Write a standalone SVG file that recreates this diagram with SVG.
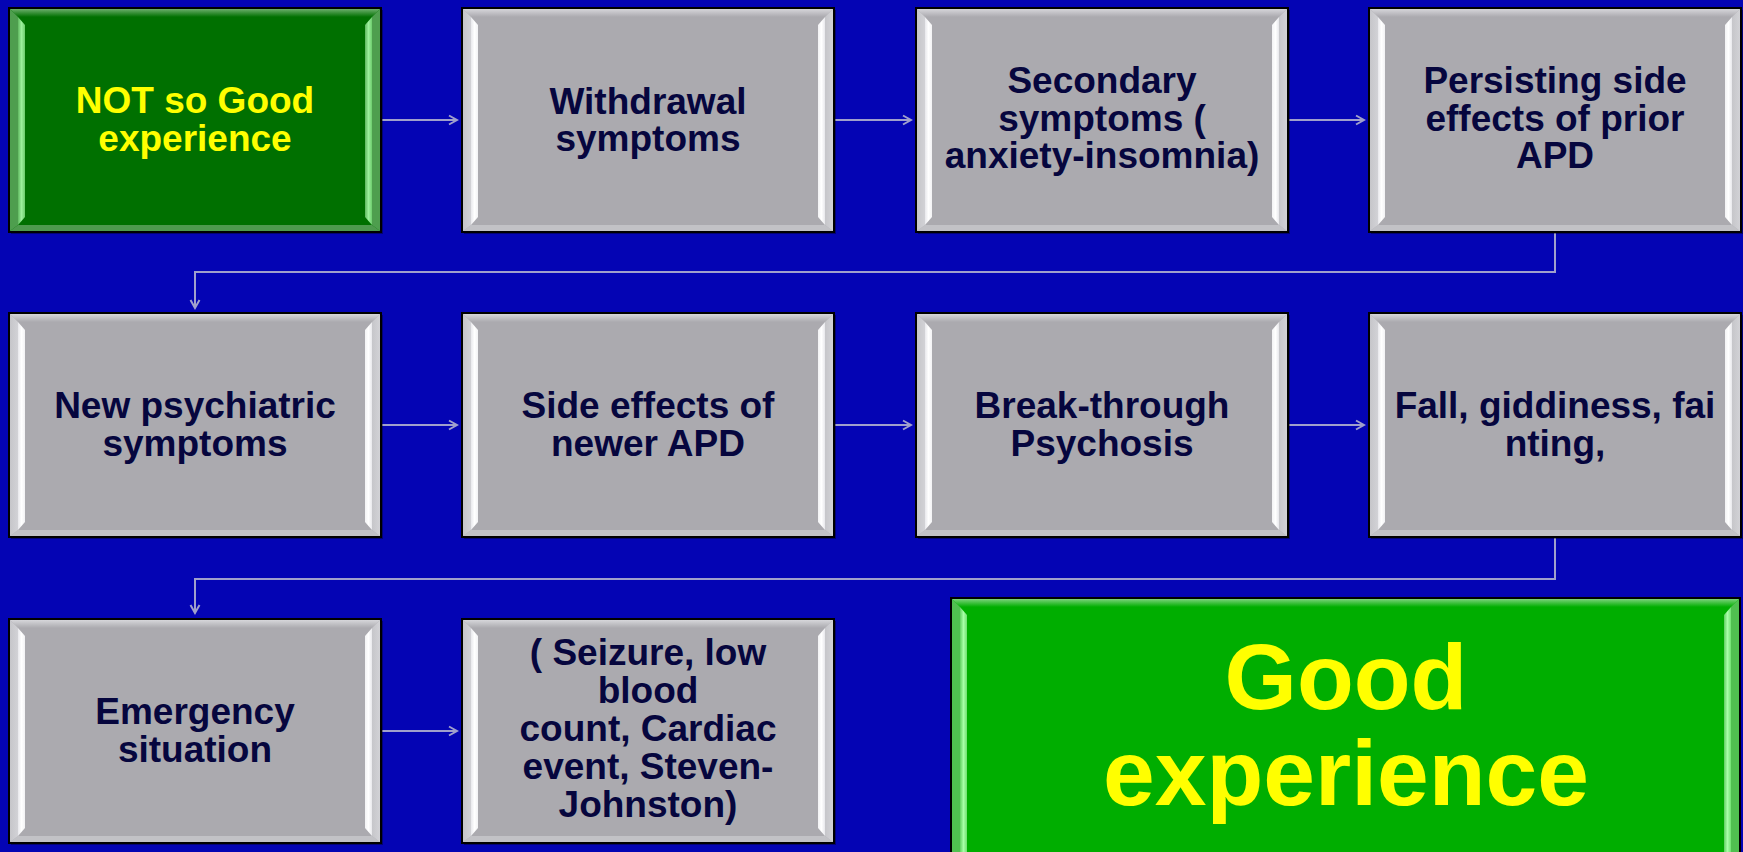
<svg xmlns="http://www.w3.org/2000/svg" xmlns:xlink="http://www.w3.org/1999/xlink" width="1743" height="852" viewBox="0 0 1743 852">
  <style>
    .lbl { font-family: "Liberation Sans", Arial, sans-serif; font-weight: bold; font-size: 37px; text-anchor: middle; fill: #06063E; }
    .yel { fill: #FFFF00; }
    .big { font-size: 93px; }
    .conn { fill: none; stroke: #A0A0CC; stroke-width: 2; }
    .edge { stroke: #000; stroke-width: 2; }
  </style>
  <defs>
    <marker id="arrow" markerUnits="userSpaceOnUse" markerWidth="12" markerHeight="12" refX="10" refY="6" orient="auto">
      <path d="M2,1.5 L10,6 L2,10.5" fill="none" stroke="#A0A0CC" stroke-width="2"/>
    </marker>
    <!-- bevel shading -->
    <linearGradient id="gTopGray" x1="0" y1="0" x2="0" y2="1">
      <stop offset="0" stop-color="#D6D6DA"/><stop offset="1" stop-color="#ABAAAF"/>
    </linearGradient>
    <linearGradient id="gLeftGray" x1="0" y1="0" x2="1" y2="0">
      <stop offset="0" stop-color="#C6C6CA"/><stop offset="1" stop-color="#D2D2D6"/>
    </linearGradient>
    <linearGradient id="gStripL" x1="0" y1="0" x2="1" y2="0">
      <stop offset="0" stop-color="#E8E8EC"/><stop offset="0.5" stop-color="#FFFFFF"/><stop offset="1" stop-color="#F2F2F4"/>
    </linearGradient>
    <linearGradient id="gStripR" x1="1" y1="0" x2="0" y2="0">
      <stop offset="0" stop-color="#E8E8EC"/><stop offset="0.5" stop-color="#FFFFFF"/><stop offset="1" stop-color="#F2F2F4"/>
    </linearGradient>
    <linearGradient id="gTopDk" x1="0" y1="0" x2="0" y2="1">
      <stop offset="0" stop-color="#6CAE6C"/><stop offset="1" stop-color="#007000"/>
    </linearGradient>
    <linearGradient id="gStripDk" x1="0" y1="0" x2="1" y2="0">
      <stop offset="0" stop-color="#5FB85F"/><stop offset="0.5" stop-color="#9CF09C"/><stop offset="1" stop-color="#6CCC6C"/>
    </linearGradient>
    <linearGradient id="gTopLt" x1="0" y1="0" x2="0" y2="1">
      <stop offset="0" stop-color="#7CD27C"/><stop offset="1" stop-color="#00AE00"/>
    </linearGradient>
    <linearGradient id="gStripLt" x1="0" y1="0" x2="1" y2="0">
      <stop offset="0" stop-color="#60D060"/><stop offset="0.5" stop-color="#A8FFA8"/><stop offset="1" stop-color="#70E070"/>
    </linearGradient>

    <!-- standard 372x224 bevelled grey card -->
    <g id="grayCard">
      <rect x="2" y="2" width="372" height="224" fill="#000" opacity="0.35"/>
      <rect x="0" y="0" width="372" height="224" fill="#ABAAAF" class="edge"/>
      <polygon points="1,1 371,1 363,9 9,9" fill="url(#gTopGray)"/>
      <polygon points="1,223 371,223 363,217 9,217" fill="#C2C2C6"/>
      <polygon points="1,1 9,9 9,217 1,223" fill="url(#gLeftGray)"/>
      <polygon points="371,1 363,9 363,217 371,223" fill="url(#gLeftGray)"/>
      <polygon points="9,9 16,17 16,209 9,217" fill="url(#gStripL)"/>
      <polygon points="363,9 356,17 356,209 363,217" fill="url(#gStripR)"/>
    </g>
  </defs>

  <rect width="1743" height="852" fill="#0404B4"/>

  <!-- connectors -->
  <g id="connectors">
    <path class="conn" d="M382,120 H457" marker-end="url(#arrow)"/>
    <path class="conn" d="M835,120 H911" marker-end="url(#arrow)"/>
    <path class="conn" d="M1289,120 H1364" marker-end="url(#arrow)"/>
    <path class="conn" d="M1555,233 V272 H195 V308" marker-end="url(#arrow)"/>
    <path class="conn" d="M382,425 H457" marker-end="url(#arrow)"/>
    <path class="conn" d="M835,425 H911" marker-end="url(#arrow)"/>
    <path class="conn" d="M1289,425 H1364" marker-end="url(#arrow)"/>
    <path class="conn" d="M1555,538 V579 H195 V613" marker-end="url(#arrow)"/>
    <path class="conn" d="M382,731 H457" marker-end="url(#arrow)"/>
  </g>

  <!-- row 1 -->
  <g id="node-not-so-good" transform="translate(9,8)">
    <rect x="2" y="2" width="372" height="224" fill="#000" opacity="0.35"/>
    <rect x="0" y="0" width="372" height="224" fill="#007000" class="edge"/>
    <polygon points="1,1 371,1 363,9 9,9" fill="url(#gTopDk)"/>
    <polygon points="1,223 371,223 363,217 9,217" fill="#4E9A4E"/>
    <polygon points="1,1 9,9 9,217 1,223" fill="#4E9E4E"/>
    <polygon points="371,1 363,9 363,217 371,223" fill="#4E9E4E"/>
    <polygon points="9,9 16,17 16,209 9,217" fill="url(#gStripDk)"/>
    <polygon points="363,9 356,17 356,209 363,217" fill="url(#gStripDk)"/>
    <text class="lbl yel" x="186" y="105">NOT so Good</text>
    <text class="lbl yel" x="186" y="143">experience</text>
  </g>
  <g id="node-withdrawal" transform="translate(462,8)">
    <use xlink:href="#grayCard"/>
    <text class="lbl" x="186" y="106">Withdrawal</text>
    <text class="lbl" x="186" y="143">symptoms</text>
  </g>
  <g id="node-secondary" transform="translate(916,8)">
    <use xlink:href="#grayCard"/>
    <text class="lbl" x="186" y="85">Secondary</text>
    <text class="lbl" x="186" y="122.5">symptoms (</text>
    <text class="lbl" x="186" y="160">anxiety-insomnia)</text>
  </g>
  <g id="node-persisting" transform="translate(1369,8)">
    <use xlink:href="#grayCard"/>
    <text class="lbl" x="186" y="85">Persisting side</text>
    <text class="lbl" x="186" y="122.5">effects of prior</text>
    <text class="lbl" x="186" y="160">APD</text>
  </g>

  <!-- row 2 -->
  <g id="node-new-psychiatric" transform="translate(9,313)">
    <use xlink:href="#grayCard"/>
    <text class="lbl" x="186" y="105">New psychiatric</text>
    <text class="lbl" x="186" y="143">symptoms</text>
  </g>
  <g id="node-side-effects" transform="translate(462,313)">
    <use xlink:href="#grayCard"/>
    <text class="lbl" x="186" y="105">Side effects of</text>
    <text class="lbl" x="186" y="143">newer APD</text>
  </g>
  <g id="node-break-through" transform="translate(916,313)">
    <use xlink:href="#grayCard"/>
    <text class="lbl" x="186" y="105">Break-through</text>
    <text class="lbl" x="186" y="143">Psychosis</text>
  </g>
  <g id="node-fall" transform="translate(1369,313)">
    <use xlink:href="#grayCard"/>
    <text class="lbl" x="186" y="105">Fall, giddiness, fai</text>
    <text class="lbl" x="186" y="143">nting,</text>
  </g>

  <!-- row 3 -->
  <g id="node-emergency" transform="translate(9,619)">
    <use xlink:href="#grayCard"/>
    <text class="lbl" x="186" y="105">Emergency</text>
    <text class="lbl" x="186" y="143">situation</text>
  </g>
  <g id="node-seizure" transform="translate(462,619)">
    <use xlink:href="#grayCard"/>
    <text class="lbl" x="186" y="46">( Seizure, low</text>
    <text class="lbl" x="186" y="84">blood</text>
    <text class="lbl" x="186" y="122">count, Cardiac</text>
    <text class="lbl" x="186" y="160">event, Steven-</text>
    <text class="lbl" x="186" y="198">Johnston)</text>
  </g>
  <g id="node-good" transform="translate(951,598)">
    <rect x="0" y="0" width="789" height="280" fill="#00AE00" class="edge"/>
    <polygon points="1,1 788,1 780,9 9,9" fill="url(#gTopLt)"/>
    <polygon points="1,1 9,9 9,279 1,279" fill="#50C050"/>
    <polygon points="788,1 780,9 780,279 788,279" fill="#50C050"/>
    <polygon points="9,9 16,17 16,279 9,279" fill="url(#gStripLt)"/>
    <polygon points="780,9 773,17 773,279 780,279" fill="url(#gStripLt)"/>
    <text class="lbl yel big" x="395" y="111">Good</text>
    <text class="lbl yel big" x="395" y="207">experience</text>
  </g>
</svg>
